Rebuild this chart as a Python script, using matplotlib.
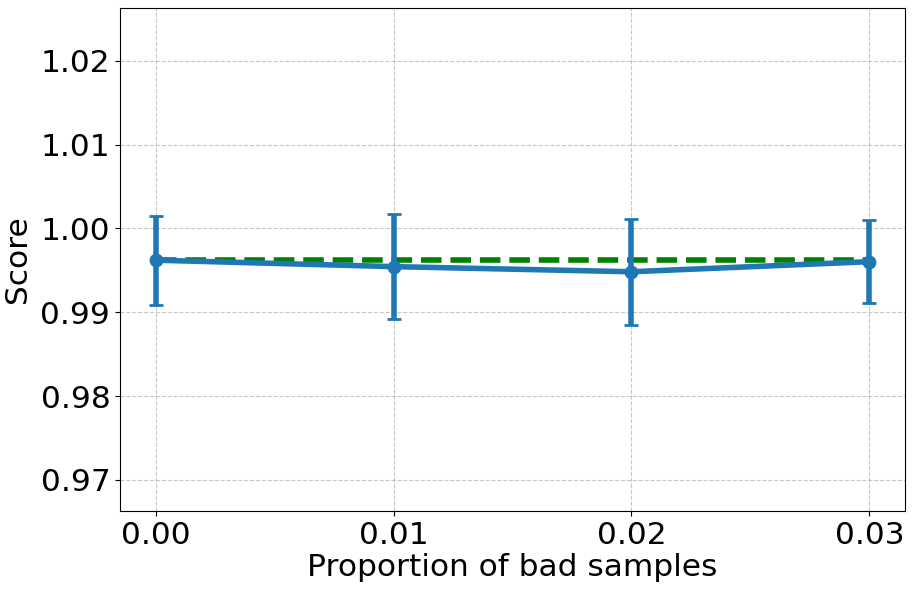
import matplotlib
matplotlib.use("Agg")
import matplotlib.pyplot as plt

proportions = [0.00, 0.01, 0.02, 0.03]
scores = [0.99622, 0.99545, 0.99484, 0.99604]
errors = [0.0053, 0.00625, 0.00635, 0.00494]
baseline = 0.9963

fig, ax = plt.subplots(figsize=(9.13, 5.92), dpi=100)
ax.plot(proportions, [baseline] * len(proportions), "--", color="green",
        linewidth=4, zorder=2)
ax.errorbar(proportions, scores, yerr=errors, fmt="-o", color="#1f77b4",
            linewidth=4, markersize=9, capsize=5, capthick=2, elinewidth=4,
            zorder=3)
ax.set_ylim(baseline - 0.03, baseline + 0.03)
ax.set_xticks(proportions)
ax.set_xticklabels([f"{p:.2f}" for p in proportions])
ax.set_xlabel("Proportion of bad samples", fontsize=22.5, labelpad=2)
ax.set_ylabel("Score", fontsize=22.5, labelpad=6)
ax.tick_params(labelsize=22.5)
ax.grid(True, linestyle="--", alpha=0.7)
fig.subplots_adjust(left=120 / 913, right=905 / 913, top=1 - 8 / 592,
                    bottom=1 - 511 / 592)
fig.savefig("out.png")
